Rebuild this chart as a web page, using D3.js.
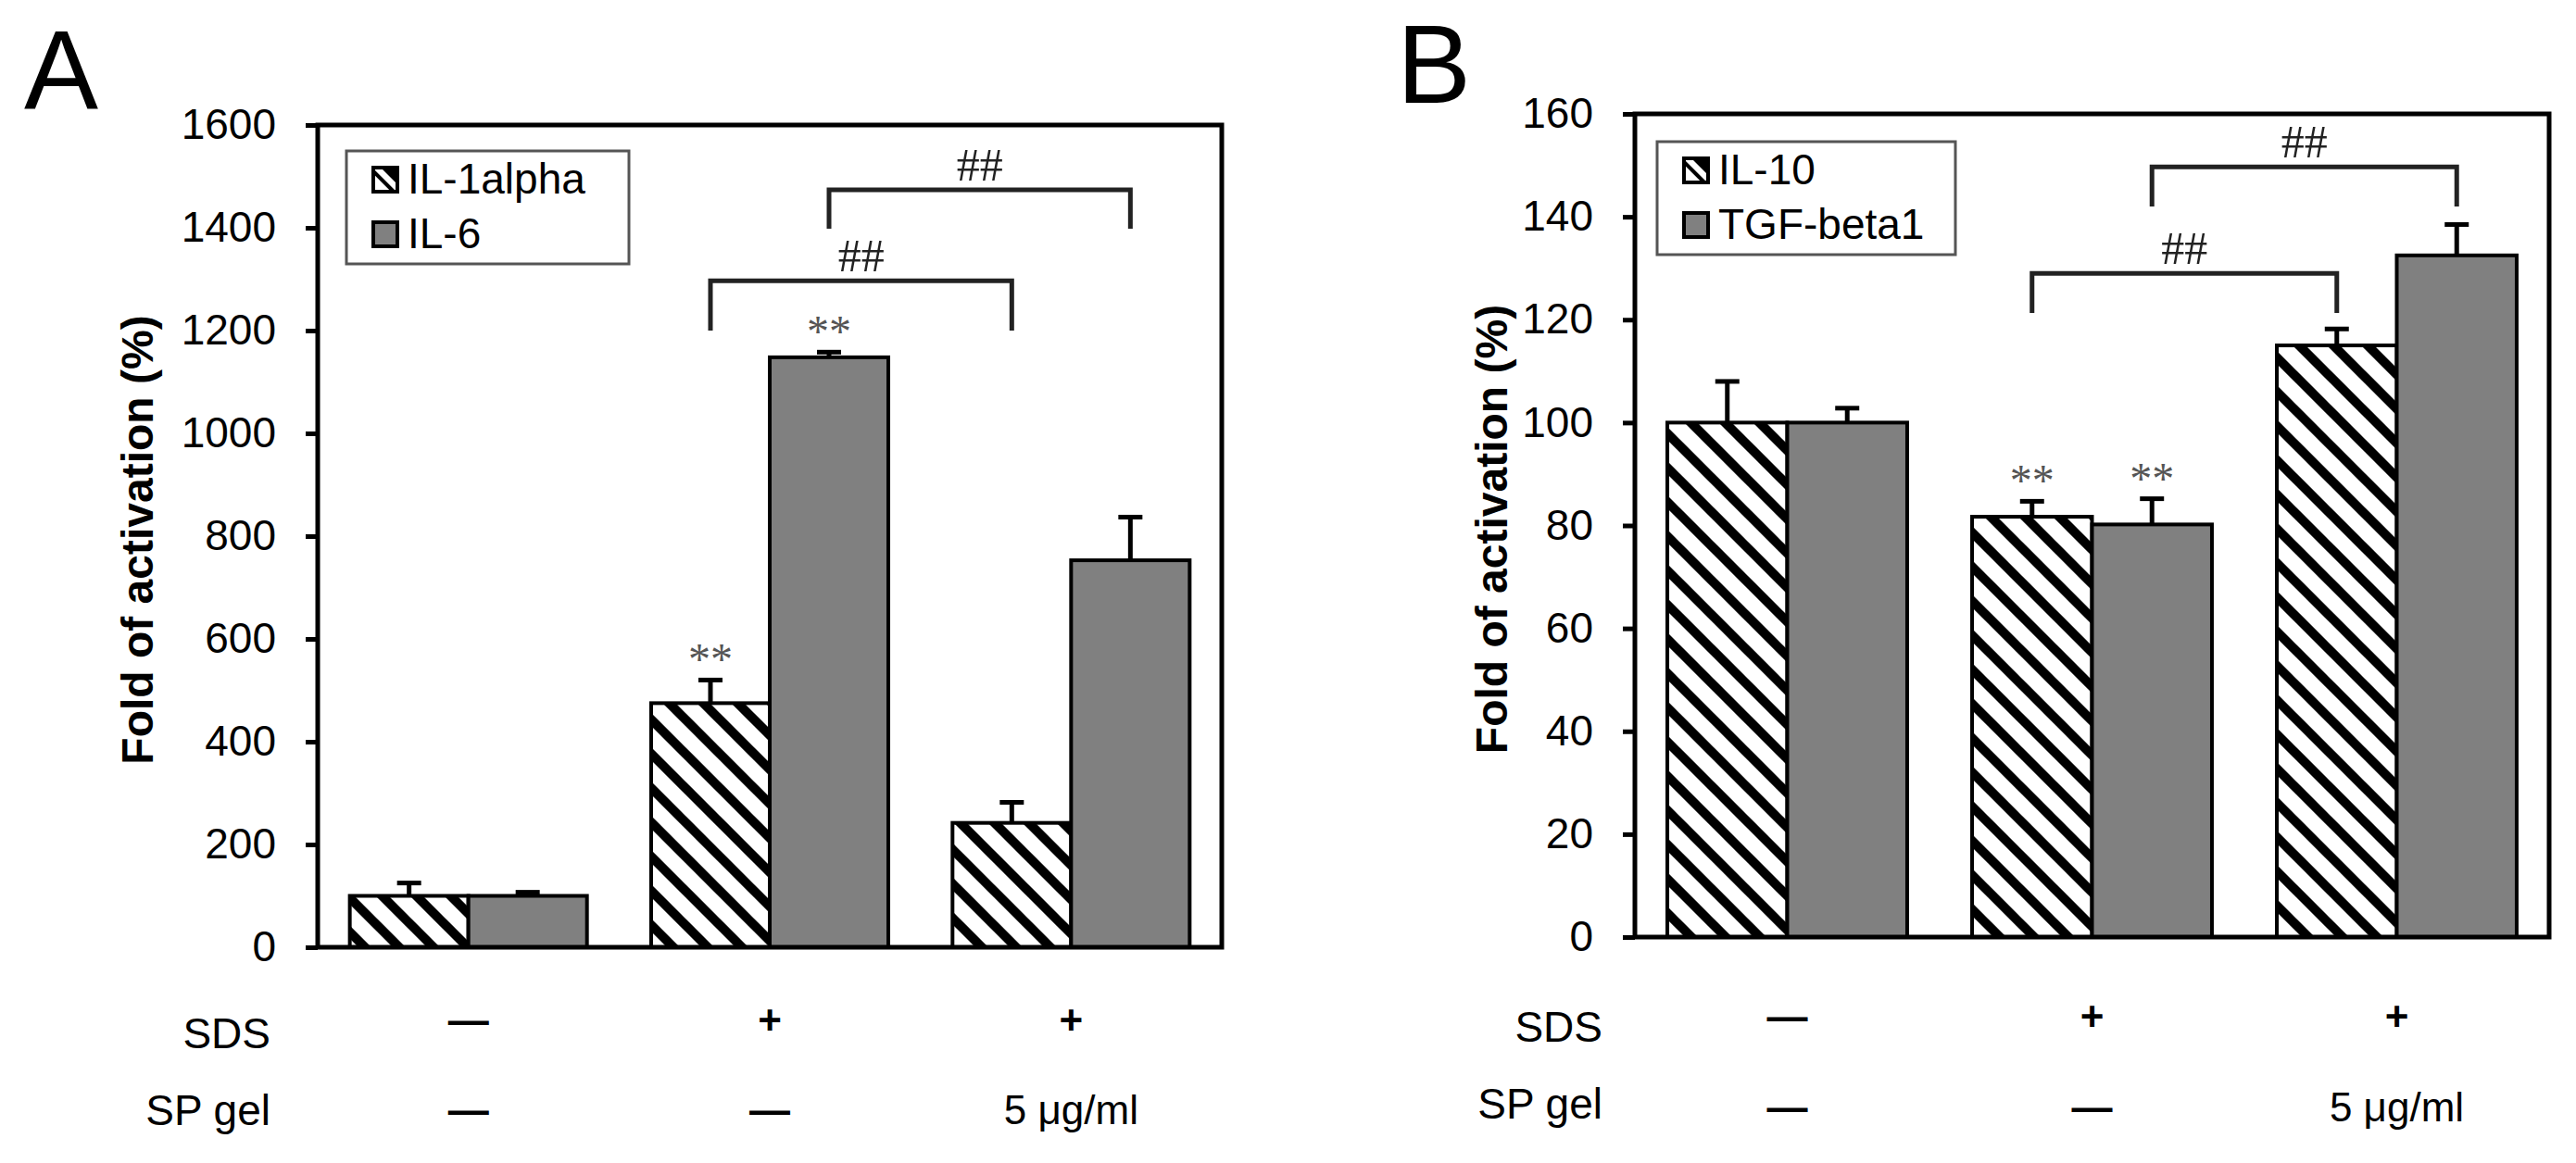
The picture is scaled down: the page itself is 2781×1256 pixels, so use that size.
<!DOCTYPE html>
<html>
<head>
<meta charset="utf-8">
<script src="https://cdn.jsdelivr.net/npm/d3@7/dist/d3.min.js"></script>
<style>
  body { margin: 0; background: #fff; }
  svg { display: block; }
</style>
</head>
<body>
<svg id="chart" width="2781" height="1256"></svg>
<script>
// conditions (three treatment groups) and the two rows of labels under the plots
var conditions = ["ctrl", "sds", "sds_sp"];
var sdsRow = ["\u2014", "+", "+"];
var spGelRow = ["\u2014", "\u2014", "5 \u03bcg/ml"];

// panel A values (% of control)
var seriesA = ["IL-1alpha", "IL-6"];
var il1alpha = [100, 475, 242];
var il1alphaErr = [25, 45, 40];
var il6 = [100, 1148, 753];
var il6Err = [7, 10, 84];
var ticksA = [0, 200, 400, 600, 800, 1000, 1200, 1400, 1600];

// panel B values (% of control)
var seriesB = ["IL-10", "TGF-beta1"];
var il10 = [100, 81.7, 115];
var il10Err = [8, 3, 3.2];
var tgfBeta1 = [100, 80.2, 132.5];
var tgfBeta1Err = [2.8, 5, 6];
var ticksB = [0, 20, 40, 60, 80, 100, 120, 140, 160];

// significance marks: ** vs control, ## brackets between groups (y in data units)
var starsA = [{ s: 0, g: 1 }, { s: 1, g: 1 }];
var starsB = [{ s: 0, g: 1 }, { s: 1, g: 1 }];
var bracketsA = [{ s: 0, from: 1, to: 2, top: 1297, leg: 1200 }, { s: 1, from: 1, to: 2, top: 1474, leg: 1398 }];
var bracketsB = [{ s: 0, from: 1, to: 2, top: 129, leg: 121.3 }, { s: 1, from: 1, to: 2, top: 149.7, leg: 142 }];

(function () {
    var svg = d3.select("#chart");
    var sans = "'Liberation Sans', Arial, sans-serif";
    var serif = "'Liberation Serif', 'Times New Roman', serif";

    var defs = svg.append("defs");
    // wide downward diagonal hatch like the excel fill
    var hatch = defs.append("pattern")
        .attr("id", "hatch")
        .attr("patternUnits", "userSpaceOnUse")
        .attr("width", 37).attr("height", 37);
    hatch.append("rect").attr("width", 37).attr("height", 37).attr("fill", "#fff");
    hatch.append("path")
        .attr("d", [-1, 0, 1].map(function (k) {
            return "M" + (k * 37 - 6) + ",-6L" + (k * 37 + 43) + ",43";
        }).join(""))
        .attr("stroke", "#000").attr("stroke-width", 10);

    var small = defs.append("pattern")
        .attr("id", "hatchSmall")
        .attr("patternUnits", "objectBoundingBox")
        .attr("width", 1).attr("height", 1);
    small.append("rect").attr("width", 26).attr("height", 26).attr("fill", "#fff");
    small.append("path").attr("d", "M8,0L26,0L26,18Z").attr("fill", "#000");
    small.append("path").attr("d", "M0,4L22,26").attr("stroke", "#000").attr("stroke-width", 4);

    svg.append("rect").attr("width", 2781).attr("height", 1256).attr("fill", "#fff");

    function drawPanel(p) {
        var g = svg.append("g");

        var y = d3.scaleLinear().domain([p.ticks[0], p.ticks[p.ticks.length - 1]]).range([p.bottom, p.top]);
        var x0 = d3.scaleBand().domain(conditions).range([p.left, p.right])
            .paddingInner(0.213).paddingOuter(0.1065);
        var x1 = d3.scaleBand().domain(p.series).range([0, x0.bandwidth()]);
        var fills = ["url(#hatch)", "#808080"];

        function cx(s, gi) {
            return x0(conditions[gi]) + x1(p.series[s]) + x1.bandwidth() / 2;
        }

        // bars
        p.series.forEach(function (name, s) {
            g.selectAll(".bar" + s)
                .data(p.values[s])
                .enter().append("rect")
                .attr("x", function (d, i) { return x0(conditions[i]) + x1(name); })
                .attr("y", function (d) { return y(d); })
                .attr("width", x1.bandwidth())
                .attr("height", function (d) { return y(0) - y(d); })
                .attr("fill", fills[s])
                .attr("stroke", "#000")
                .attr("stroke-width", 4);
        });

        // error bars (upper only)
        p.series.forEach(function (name, s) {
            var eb = g.selectAll(".err" + s)
                .data(p.values[s])
                .enter().append("g");
            eb.append("line")
                .attr("x1", function (d, i) { return cx(s, i); })
                .attr("x2", function (d, i) { return cx(s, i); })
                .attr("y1", function (d) { return y(d); })
                .attr("y2", function (d, i) { return y(d + p.errors[s][i]); })
                .attr("stroke", "#000").attr("stroke-width", 5);
            eb.append("line")
                .attr("x1", function (d, i) { return cx(s, i) - 13; })
                .attr("x2", function (d, i) { return cx(s, i) + 13; })
                .attr("y1", function (d, i) { return y(d + p.errors[s][i]); })
                .attr("y2", function (d, i) { return y(d + p.errors[s][i]); })
                .attr("stroke", "#000").attr("stroke-width", 5);
        });

        // axis with outside ticks
        var axis = g.append("g")
            .attr("transform", "translate(" + p.left + ",0)")
            .call(d3.axisLeft(y).tickValues(p.ticks).tickFormat(d3.format("d"))
                .tickSize(13).tickSizeOuter(0).tickPadding(32));
        axis.select(".domain").remove();
        axis.selectAll(".tick line").attr("stroke", "#000").attr("stroke-width", 5);
        axis.selectAll(".tick text")
            .attr("fill", "#000")
            .style("font-family", sans)
            .style("font-size", "46px");

        // plot frame
        g.append("rect")
            .attr("x", p.left).attr("y", p.top)
            .attr("width", p.right - p.left).attr("height", p.bottom - p.top)
            .attr("fill", "none").attr("stroke", "#000").attr("stroke-width", 5);

        // y title
        g.append("text")
            .attr("transform", "translate(" + p.titleX + "," + ((p.top + p.bottom) / 2 + 4) + ") rotate(-90)")
            .attr("text-anchor", "middle")
            .attr("dy", "0.35em")
            .style("font-family", sans)
            .style("font-size", "48px")
            .style("font-weight", "bold")
            .text("Fold of activation (%)");

        // panel letter
        g.append("text")
            .attr("x", p.letterX).attr("y", p.letterY)
            .style("font-family", sans)
            .style("font-size", "120px")
            .text(p.letter);

        // legend
        var lg = g.append("g").attr("transform", "translate(" + p.legend[0] + "," + p.legend[1] + ")");
        lg.append("rect")
            .attr("width", p.legend[2]).attr("height", 122)
            .attr("fill", "#fff").attr("stroke", "#555").attr("stroke-width", 3);
        p.series.forEach(function (name, s) {
            var base = 46 + s * 59;
            lg.append("rect")
                .attr("x", 29).attr("y", base - 28)
                .attr("width", 26).attr("height", 26)
                .attr("fill", s === 0 ? "url(#hatchSmall)" : "#808080")
                .attr("stroke", "#000").attr("stroke-width", 4);
            lg.append("text")
                .attr("x", 66).attr("y", base)
                .style("font-family", sans)
                .style("font-size", "46px")
                .text(name);
        });

        // ** marks
        g.selectAll(".star")
            .data(p.stars)
            .enter().append("text")
            .attr("x", function (d) { return cx(d.s, d.g); })
            .attr("y", function (d) { return y(p.values[d.s][d.g] + p.errors[d.s][d.g]) - 6; })
            .attr("text-anchor", "middle")
            .attr("fill", "#555")
            .style("font-family", serif)
            .style("font-size", "48px")
            .text("**");

        // ## brackets
        var br = g.selectAll(".bracket")
            .data(p.brackets)
            .enter().append("g");
        br.append("path")
            .attr("d", function (d) {
                var xa = cx(d.s, d.from), xb = cx(d.s, d.to);
                return "M" + xa + "," + y(d.leg) + "V" + y(d.top) + "H" + xb + "V" + y(d.leg);
            })
            .attr("fill", "none").attr("stroke", "#222").attr("stroke-width", 5);
        br.append("text")
            .attr("x", function (d) { return (cx(d.s, d.from) + cx(d.s, d.to)) / 2; })
            .attr("y", function (d) { return y(d.top) - 10; })
            .attr("text-anchor", "middle")
            .attr("fill", "#222")
            .style("font-family", serif)
            .style("font-size", "50px")
            .text("##");

        // treatment rows
        var rows = [
            { label: "SDS", marks: sdsRow, labelY: p.rowLabelY[0], markY: p.rowMarkY[0] },
            { label: "SP gel", marks: spGelRow, labelY: p.rowLabelY[1], markY: p.rowMarkY[1] }
        ];
        rows.forEach(function (r) {
            g.append("text")
                .attr("x", p.rowLabelX).attr("y", r.labelY)
                .attr("text-anchor", "end")
                .style("font-family", sans)
                .style("font-size", "46px")
                .text(r.label);
            g.selectAll(null)
                .data(r.marks)
                .enter().append("text")
                .attr("x", function (d, i) { return x0(conditions[i]) + x0.bandwidth() / 2; })
                .attr("y", r.markY)
                .attr("text-anchor", "middle")
                .style("font-family", sans)
                .style("font-size", "44px")
                .style("font-weight", function (d) { return d.length > 1 ? "normal" : "bold"; })
                .text(function (d) { return d; });
        });
    }

    drawPanel({
        letter: "A", letterX: 26, letterY: 117,
        left: 343, right: 1319, top: 135, bottom: 1023,
        ticks: ticksA, series: seriesA,
        values: [il1alpha, il6], errors: [il1alphaErr, il6Err],
        stars: starsA, brackets: bracketsA,
        titleX: 148, legend: [374, 163, 305],
        rowLabelX: 292, rowLabelY: [1132, 1215], rowMarkY: [1117, 1214]
    });

    drawPanel({
        letter: "B", letterX: 1508, letterY: 111,
        left: 1765, right: 2752, top: 123, bottom: 1012,
        ticks: ticksB, series: seriesB,
        values: [il10, tgfBeta1], errors: [il10Err, tgfBeta1Err],
        stars: starsB, brackets: bracketsB,
        titleX: 1610, legend: [1789, 153, 322],
        rowLabelX: 1730, rowLabelY: [1125, 1208], rowMarkY: [1113, 1211]
    });
})();
</script>
</body>
</html>
